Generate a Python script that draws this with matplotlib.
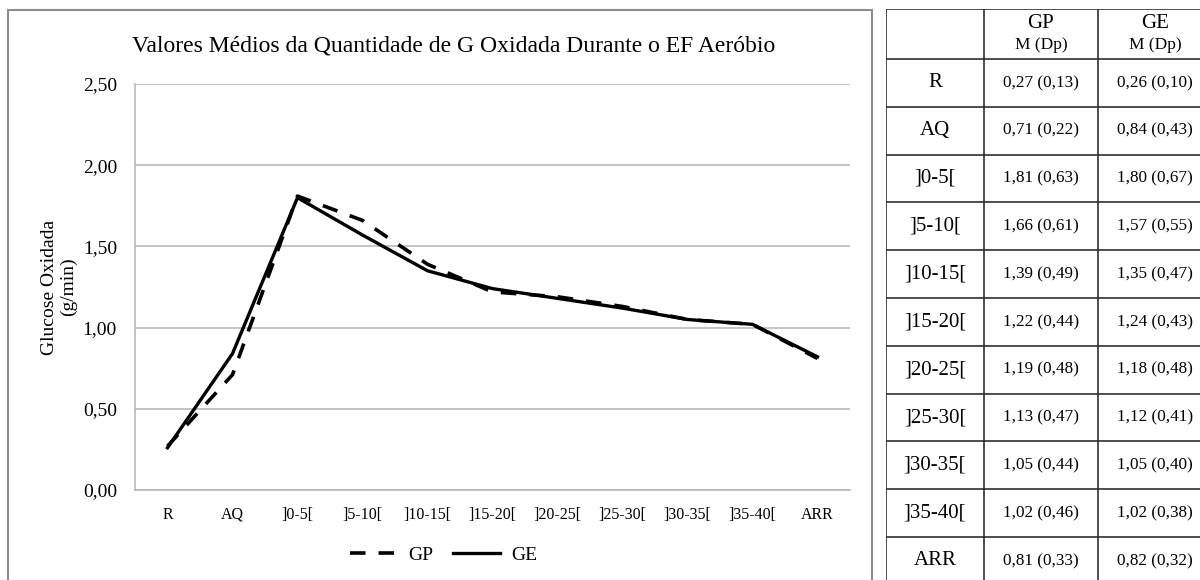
import numpy as np
import matplotlib
matplotlib.use("Agg")
import matplotlib.pyplot as plt
from matplotlib.patches import Rectangle
from matplotlib.ticker import FuncFormatter

plt.rcParams["font.family"] = ["Liberation Serif", "DejaVu Serif"]

# data: mean (sd) glucose oxidised, g/min
categories = ["R", "AQ", "]0-5[", "]5-10[", "]10-15[", "]15-20[", "]20-25[",
              "]25-30[", "]30-35[", "]35-40[", "ARR"]
gp_mean = [0.27, 0.71, 1.81, 1.66, 1.39, 1.22, 1.19, 1.13, 1.05, 1.02, 0.81]
gp_sd = [0.13, 0.22, 0.63, 0.61, 0.49, 0.44, 0.48, 0.47, 0.44, 0.46, 0.33]
ge_mean = [0.26, 0.84, 1.80, 1.57, 1.35, 1.24, 1.18, 1.12, 1.05, 1.02, 0.82]
ge_sd = [0.10, 0.43, 0.67, 0.55, 0.47, 0.43, 0.48, 0.41, 0.40, 0.38, 0.32]
y_ticks = [0.0, 0.5, 1.0, 1.5, 2.0, 2.5]

W, H = 1200, 580


def comma(v):
    return f"{v:.2f}".replace(".", ",")


fig = plt.figure(figsize=(W / 100, H / 100), dpi=100)

# outer chart frame (Excel-like)
fig.patches.append(Rectangle((8 / W, -0.05), (872 - 8) / W, 1.05 - 10 / H,
                             transform=fig.transFigure, fill=False,
                             edgecolor="#8c8c8c", linewidth=1.5))

ax = fig.add_axes([135 / W, 1 - 490 / H, (850 - 135) / W, (490 - 84) / H])
x = np.arange(len(categories))
ax.plot(x, gp_mean, color="black", linewidth=2.6, linestyle=(0, (4.3, 3.6)),
        label="GP", zorder=3)
ax.plot(x, ge_mean, color="black", linewidth=2.4, label="GE", zorder=3)

ax.set_xlim(-0.5, len(categories) - 0.5)
ax.set_ylim(0, 2.5)
ax.set_yticks(y_ticks)
ax.yaxis.set_major_formatter(FuncFormatter(lambda v, _: comma(v)))
ax.set_xticks(x)
ax.set_xticklabels(categories, fontsize=11.5)
ax.tick_params(axis="y", length=0, pad=13, labelsize=14)
ax.tick_params(axis="x", length=0, pad=12)
ax.grid(axis="y", color="#b4b4b4", linewidth=1.1)
for side in ("top", "right"):
    ax.spines[side].set_visible(False)
ax.spines["left"].set_color("#b4b4b4")
ax.spines["bottom"].set_color("#b4b4b4")
ax.spines["left"].set_linewidth(1.1)
ax.spines["bottom"].set_linewidth(1.1)

fig.text(454 / W, 1 - 46 / H,
         "Valores Médios da Quantidade de G Oxidada Durante o EF Aeróbio",
         ha="center", va="center", fontsize=17)
fig.text(59 / W, 1 - 287 / H, "Glucose Oxidada\n(g/min)", rotation=90,
         ha="center", va="center", fontsize=14, multialignment="center",
         linespacing=1.1)

ax.legend(loc="center", bbox_to_anchor=(444 / W, 1 - 555 / H),
          bbox_transform=fig.transFigure, ncol=2, frameon=False, fontsize=14,
          handlelength=2.4, handletextpad=0.6, columnspacing=1.0)

# table on the right
col_edges = [0, 98, 212, 326]
header_h = 50
row_h = 47.8
n_rows = len(categories)
tab_h = header_h + n_rows * row_h
tax = fig.add_axes([886 / W, 1 - (9 + tab_h) / H, col_edges[-1] / W, tab_h / H])
tax.set_xlim(0, col_edges[-1])
tax.set_ylim(tab_h, 0)
tax.axis("off")

line_kw = dict(color="#303030", linewidth=1.2)
y_edges = [0, header_h] + [header_h + (i + 1) * row_h for i in range(n_rows)]
for ye in y_edges:
    tax.plot([0, col_edges[-1]], [ye, ye], **line_kw)
for xe in col_edges:
    tax.plot([xe, xe], [0, tab_h], **line_kw)

for j, name in enumerate(["GP", "GE"]):
    xc = (col_edges[j + 1] + col_edges[j + 2]) / 2
    tax.text(xc, 15, name, ha="center", va="center", fontsize=15)
    tax.text(xc, 36, "M (Dp)", ha="center", va="center", fontsize=12.5)

for i, cat in enumerate(categories):
    yc = header_h + (i + 0.5) * row_h
    tax.text(col_edges[1] / 2, yc, cat, ha="center", va="center", fontsize=15)
    tax.text((col_edges[1] + col_edges[2]) / 2, yc,
             f"{comma(gp_mean[i])} ({comma(gp_sd[i])})",
             ha="center", va="center", fontsize=12.3)
    tax.text((col_edges[2] + col_edges[3]) / 2, yc,
             f"{comma(ge_mean[i])} ({comma(ge_sd[i])})",
             ha="center", va="center", fontsize=12.3)

fig.savefig("out.png", dpi=100)
